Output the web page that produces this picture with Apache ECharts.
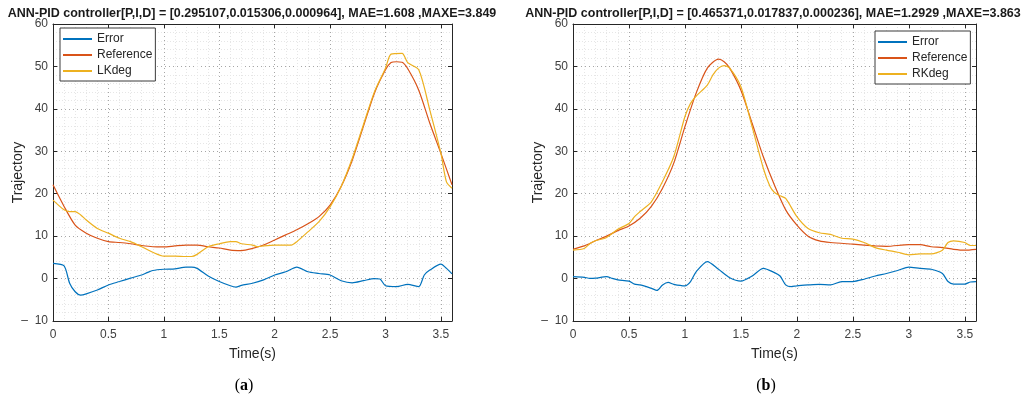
<!DOCTYPE html>
<html><head><meta charset="utf-8">
<script src="https://cdn.jsdelivr.net/npm/echarts@6/dist/echarts.min.js"></script>
<style>html,body{margin:0;padding:0;background:#fff}#c{width:1032px;height:400px}</style>
</head><body><div id="c"></div>
<script>
// ---- data (time in s, value) ----
const titleA = 'ANN-PID controller[P,I,D] = [0.295107,0.015306,0.000964], MAE=1.608 ,MAXE=3.849';
const titleB = 'ANN-PID controller[P,I,D] = [0.465371,0.017837,0.000236], MAE=1.2929 ,MAXE=3.863';
const xTicks = [0, 0.5, 1, 1.5, 2, 2.5, 3, 3.5];
const yTicks = [-10, 0, 10, 20, 30, 40, 50, 60];

const refA = [[0,22.1],[0.1,17],[0.2,12.6],[0.3,10.7],[0.4,9.5],[0.5,8.7],[0.6,8.5],[0.7,8.2],[0.8,7.8],[0.9,7.5],[1.0,7.45],[1.1,7.7],[1.2,7.9],[1.3,7.9],[1.4,7.5],[1.5,7.2],[1.6,6.7],[1.7,6.6],[1.8,7.1],[1.9,7.9],[2.0,9.1],[2.1,10.3],[2.2,11.5],[2.3,12.9],[2.4,14.6],[2.5,17.3],[2.6,21.7],[2.7,27.9],[2.8,35.8],[2.9,43.7],[3.0,49.2],[3.05,50.9],[3.1,51.1],[3.15,51],[3.2,49.5],[3.3,44.4],[3.4,36.6],[3.5,29.5],[3.6,22.1]];
const lkA = [[0,18.5],[0.1,16.2],[0.15,15.8],[0.2,15.8],[0.25,15],[0.3,13.8],[0.4,11.8],[0.5,10.7],[0.6,9.5],[0.7,8.7],[0.8,7.5],[0.9,6.2],[1.0,5.3],[1.1,5.3],[1.2,5.2],[1.25,5.2],[1.3,5.7],[1.4,7.5],[1.5,8.2],[1.6,8.7],[1.65,8.7],[1.7,8.2],[1.8,7.9],[1.85,7.5],[1.9,7.7],[2.0,7.9],[2.1,7.9],[2.15,7.9],[2.2,8.7],[2.3,11],[2.4,13.4],[2.5,16.9],[2.6,21.7],[2.7,28.3],[2.8,36.2],[2.9,44],[3.0,49.6],[3.05,52.9],[3.15,53.1],[3.2,50.9],[3.3,49.2],[3.4,39.7],[3.5,29.5],[3.55,22.8],[3.6,21.3]];
const errA = [[0,3.6],[0.1,3.0],[0.15,-1.1],[0.2,-3.1],[0.25,-3.9],[0.3,-3.6],[0.4,-2.7],[0.5,-1.5],[0.6,-0.7],[0.7,0.1],[0.8,0.85],[0.85,1.4],[0.9,1.9],[1.0,2.2],[1.1,2.3],[1.2,2.7],[1.25,2.7],[1.3,2.4],[1.4,0.6],[1.5,-0.7],[1.6,-1.7],[1.65,-2.0],[1.7,-1.6],[1.8,-1.1],[1.9,-0.3],[2.0,0.85],[2.1,1.6],[2.2,2.7],[2.3,1.6],[2.4,1.2],[2.5,0.85],[2.6,-0.5],[2.7,-1.0],[2.8,-0.5],[2.9,0],[2.95,-0.1],[3.0,-1.7],[3.1,-1.9],[3.2,-1.35],[3.3,-1.9],[3.35,0.85],[3.4,2.0],[3.5,3.4],[3.55,2.4],[3.6,1.1]];

const refB = [[0,6.9],[0.1,7.7],[0.2,8.9],[0.3,10],[0.4,11.3],[0.5,12.4],[0.6,14.2],[0.7,17],[0.8,21.3],[0.9,27.2],[1.0,35.8],[1.1,43.7],[1.2,49.6],[1.3,51.7],[1.35,51.1],[1.4,49.6],[1.5,44.4],[1.6,36.6],[1.7,28.7],[1.8,22],[1.9,16.2],[2.0,12.6],[2.1,10],[2.2,8.9],[2.3,8.5],[2.5,8.1],[2.7,7.7],[2.8,7.6],[3.0,8.0],[3.1,8.0],[3.2,7.5],[3.3,7.3],[3.4,6.9],[3.5,6.7],[3.6,6.9]];
const rkB = [[0,6.7],[0.1,7.1],[0.15,8.2],[0.2,8.9],[0.3,9.7],[0.4,11.6],[0.5,13],[0.55,14.6],[0.6,15.8],[0.7,18.1],[0.8,22.9],[0.9,28.7],[1.0,38.2],[1.05,41.3],[1.1,43],[1.2,45.6],[1.25,48],[1.3,49.6],[1.35,50.2],[1.4,49.6],[1.5,45.2],[1.6,35.8],[1.7,26],[1.76,21.7],[1.8,20.3],[1.85,19.5],[1.9,18.9],[2.0,14.6],[2.1,11.8],[2.2,10.8],[2.3,10.4],[2.4,9.5],[2.5,9.3],[2.6,8.5],[2.7,7.3],[2.8,6.7],[2.9,6.2],[3.0,5.6],[3.1,5.8],[3.2,5.8],[3.3,6.7],[3.35,8.5],[3.4,8.9],[3.5,8.5],[3.55,7.8],[3.6,7.8]];
const errB = [[0,0.45],[0.1,0.3],[0.15,0.05],[0.2,0.1],[0.3,0.45],[0.35,0.05],[0.4,-0.3],[0.5,-0.6],[0.55,-1.3],[0.6,-1.5],[0.7,-2.3],[0.75,-2.8],[0.8,-1.5],[0.85,-0.9],[0.9,-1.35],[1.0,-1.7],[1.05,-0.7],[1.1,1.6],[1.2,4.0],[1.3,2.2],[1.4,0.2],[1.5,-0.6],[1.6,0.6],[1.7,2.4],[1.8,1.4],[1.85,0.6],[1.9,-1.5],[1.95,-1.9],[2.0,-1.7],[2.1,-1.5],[2.2,-1.35],[2.3,-1.5],[2.4,-0.7],[2.5,-0.7],[2.6,-0.15],[2.7,0.6],[2.8,1.2],[2.9,1.9],[3.0,2.7],[3.1,2.4],[3.2,2.2],[3.3,1.2],[3.35,-0.7],[3.4,-1.3],[3.5,-1.3],[3.55,-0.8],[3.6,-0.7]];

const COL = {Error:'#0072BD', Reference:'#D95319', LKdeg:'#EDB120', RKdeg:'#EDB120'};
const FONT = 'Liberation Sans, Arial, sans-serif';

const chart = echarts.init(document.getElementById('c'), null, {renderer:'canvas'});
const axisCol = '#262626';
const xStep = xTicks[1]-xTicks[0], yStep = yTicks[1]-yTicks[0];

function xAx(g, pos){
  const main = pos === 'bottom';
  return {gridIndex:g, type:'value', position:pos, min:xTicks[0], max:3.6, interval:xStep,
    axisLine:{show:true, onZero:false, lineStyle:{color:axisCol, width:1}},
    axisTick:{show:true, inside:true, length:4, lineStyle:{color:axisCol}},
    minorTick:{show:false, splitNumber:5},
    splitLine:{show:main, lineStyle:{type:[1,3], color:'#a6a6a6', width:1}},
    minorSplitLine:{show:main, lineStyle:{type:[1,2], color:'#e6e6e6', width:1}},
    axisLabel:{show:main, showMaxLabel:false, margin:8, fontSize:12, color:'#404040', fontFamily:FONT},
    name: main ? 'Time(s)' : '', nameLocation:'middle', nameGap:26, nameMoveOverlap:false,
    nameTextStyle:{fontSize:14, color:'#262626', fontFamily:FONT}
  };
}
function yAx(g, pos){
  const main = pos === 'left';
  return {gridIndex:g, type:'value', position:pos, min:yTicks[0], max:yTicks[yTicks.length-1], interval:yStep,
    axisLine:{show:true, onZero:false, lineStyle:{color:axisCol, width:1}},
    axisTick:{show:true, inside:true, length:4, lineStyle:{color:axisCol}},
    minorTick:{show:false, splitNumber:5},
    splitLine:{show:main, lineStyle:{type:[1,3], color:'#a6a6a6', width:1}},
    minorSplitLine:{show:main, lineStyle:{type:[1,2], color:'#e6e6e6', width:1}},
    axisLabel:{show:main, margin:5, fontSize:12, color:'#404040', fontFamily:FONT,
      formatter: v => v < 0 ? '\u2013  ' + (-v) : String(v)},
    name: main ? 'Trajectory' : '', nameLocation:'middle', nameGap:28, nameRotate:90, nameMoveOverlap:false,
    nameTextStyle:{fontSize:14, color:'#262626', fontFamily:FONT}
  };
}
function line(name, data, xi, yi){
  return {name, type:'line', data, xAxisIndex:xi, yAxisIndex:yi, showSymbol:false, symbol:'none',
    smooth:0.25, lineStyle:{width:1.2, color:COL[name]}, itemStyle:{color:COL[name]}, z:3};
}
function legend(names, left, top){
  return {data:names, orient:'vertical', left, top, icon:'rect', itemWidth:29, itemHeight:2, itemGap:2,
    padding:[4,3,3,3], borderColor:'#3a3a3a', borderWidth:1, backgroundColor:'#fff',
    textStyle:{fontSize:12, color:'#262626', fontFamily:FONT, lineHeight:14}, selectedMode:false};
}

chart.setOption({
  animation:false,
  backgroundColor:'#fff',
  grid:[
    {left:53, top:24, width:399, height:297, show:false},
    {left:573, top:24, width:403, height:297, show:false}
  ],
  xAxis:[xAx(0,'bottom'), xAx(0,'top'), xAx(1,'bottom'), xAx(1,'top')],
  yAxis:[yAx(0,'left'), yAx(0,'right'), yAx(1,'left'), yAx(1,'right')],
  legend:[legend(['Error','Reference','LKdeg'], 60, 28), legend(['Error','Reference','RKdeg'], 875, 31)],
  series:[
    line('Error', errA, 0, 0), line('Reference', refA, 0, 0), line('LKdeg', lkA, 0, 0),
    line('Error', errB, 2, 2), line('Reference', refB, 2, 2), line('RKdeg', rkB, 2, 2)
  ],
  graphic:[
    {type:'text', x:252, y:14, style:{text:titleA, align:'center', verticalAlign:'middle', font:'bold 12.5px '+FONT, fill:'#1a1a1a'}},
    {type:'text', x:773, y:14, style:{text:titleB, align:'center', verticalAlign:'middle', font:'bold 12.5px '+FONT, fill:'#1a1a1a'}},
    {type:'text', x:244, y:386, style:{text:'{p|(}{b|a}{p|)}', align:'center', verticalAlign:'middle',
      rich:{p:{fontFamily:'Liberation Serif, serif', fontSize:16, fill:'#000'}, b:{fontFamily:'Liberation Serif, serif', fontWeight:'bold', fontSize:16, fill:'#000'}}}},
    {type:'text', x:766, y:386, style:{text:'{p|(}{b|b}{p|)}', align:'center', verticalAlign:'middle',
      rich:{p:{fontFamily:'Liberation Serif, serif', fontSize:16, fill:'#000'}, b:{fontFamily:'Liberation Serif, serif', fontWeight:'bold', fontSize:16, fill:'#000'}}}}
  ]
});
</script></body></html>
